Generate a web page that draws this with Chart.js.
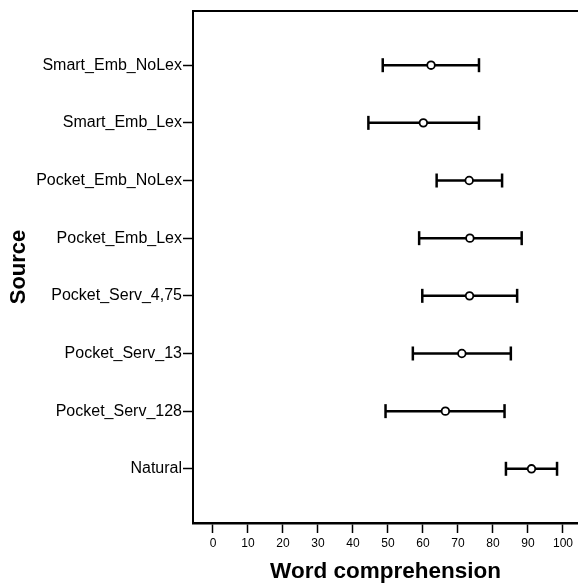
<!DOCTYPE html>
<html>
<head>
<meta charset="utf-8">
<script src="https://cdn.jsdelivr.net/npm/chart.js@4"></script>
<style>
  body { margin: 0; background: #fff; }
</style>
</head>
<body>
<canvas id="chart" width="578" height="585"></canvas>
<script>
// Datos
const sources = [
  "Smart_Emb_NoLex",
  "Smart_Emb_Lex",
  "Pocket_Emb_NoLex",
  "Pocket_Emb_Lex",
  "Pocket_Serv_4,75",
  "Pocket_Serv_13",
  "Pocket_Serv_128",
  "Natural",
];
const means = [62.3, 60.1, 73.2, 73.4, 73.3, 71.1, 66.4, 91.0];
const lows = [48.5, 44.4, 63.9, 58.9, 59.8, 57.1, 49.3, 83.7];
const highs = [76.0, 76.0, 82.6, 88.2, 86.9, 85.1, 83.3, 98.3];
const xTicks = [0, 10, 20, 30, 40, 50, 60, 70, 80, 90, 100];

const fontFamily = "'Liberation Sans', Arial, sans-serif";
const ink = "#000";

// Una línea por fila (barra de error con topes)
const whiskerSets = sources.map((name, i) => ({
  type: "line",
  label: name,
  data: [
    { x: lows[i], y: i + 1 },
    { x: highs[i], y: i + 1 },
  ],
  borderColor: ink,
  borderWidth: 2.5,
  pointStyle: "line",
  pointRotation: 90,
  pointRadius: 7,
  pointBorderWidth: 2.5,
  pointBorderColor: ink,
  fill: false,
  order: 1,
}));

const meanSet = {
  type: "scatter",
  label: "Media",
  data: means.map((m, i) => ({ x: m, y: i + 1 })),
  pointStyle: "circle",
  pointRadius: 3.8,
  borderWidth: 1.8,
  borderColor: ink,
  backgroundColor: "#fff",
  order: 0,
};

// Sin relleno lateral para que el eje llegue al borde
const noSidePadding = (axis) => {
  axis.paddingLeft = 0;
  axis.paddingRight = 0;
};

const ctx = document.getElementById("chart").getContext("2d");

new Chart(ctx, {
  type: "scatter",
  data: { datasets: [...whiskerSets, meanSet] },
  options: {
    responsive: false,
    devicePixelRatio: 1,
    animation: false,
    layout: {
      autoPadding: false,
      padding: { top: 11, right: 0, left: 0, bottom: 0 },
    },
    plugins: {
      legend: { display: false },
      tooltip: { enabled: false },
    },
    scales: {
      x: {
        type: "linear",
        position: "bottom",
        min: -5.71,
        max: 104.29,
        afterBuildTicks: (axis) => {
          axis.ticks = xTicks.map((v) => ({ value: v }));
        },
        afterFit: (axis) => {
          axis.height = 62;
          noSidePadding(axis);
        },
        ticks: {
          color: ink,
          font: { family: fontFamily, size: 12 },
          padding: 3,
          maxRotation: 0,
          autoSkip: false,
        },
        grid: {
          drawOnChartArea: false,
          drawTicks: true,
          tickLength: 10,
          tickColor: ink,
          tickWidth: 1.5,
        },
        border: { display: true, color: ink, width: 2.5 },
        title: {
          display: true,
          text: "Word comprehension",
          color: ink,
          font: { family: fontFamily, size: 22.5, weight: "bold", lineHeight: 1.2 },
          padding: { top: 0, bottom: 0 },
        },
      },
      x2: {
        type: "linear",
        position: "top",
        min: -5.71,
        max: 104.29,
        afterFit: (axis) => {
          axis.height = 0;
          noSidePadding(axis);
        },
        ticks: { display: false },
        grid: { display: false, drawTicks: false },
        border: { display: true, color: ink, width: 2 },
      },
      y: {
        type: "linear",
        reverse: true,
        min: 0.06,
        max: 8.94,
        afterBuildTicks: (axis) => {
          axis.ticks = sources.map((s, i) => ({ value: i + 1 }));
        },
        afterFit: (axis) => {
          axis.width = 193;
        },
        ticks: {
          color: ink,
          font: { family: fontFamily, size: 16 },
          padding: 1,
          autoSkip: false,
          callback: (value) => sources[value - 1] || "",
        },
        grid: {
          drawOnChartArea: false,
          drawTicks: true,
          tickLength: 10,
          tickColor: ink,
          tickWidth: 1.5,
        },
        border: { display: true, color: ink, width: 2 },
        title: {
          display: true,
          text: "Source",
          color: ink,
          font: { family: fontFamily, size: 22, weight: "bold", lineHeight: 1.2 },
          padding: { top: 6, bottom: 0 },
        },
      },
    },
  },
});
</script>
</body>
</html>
